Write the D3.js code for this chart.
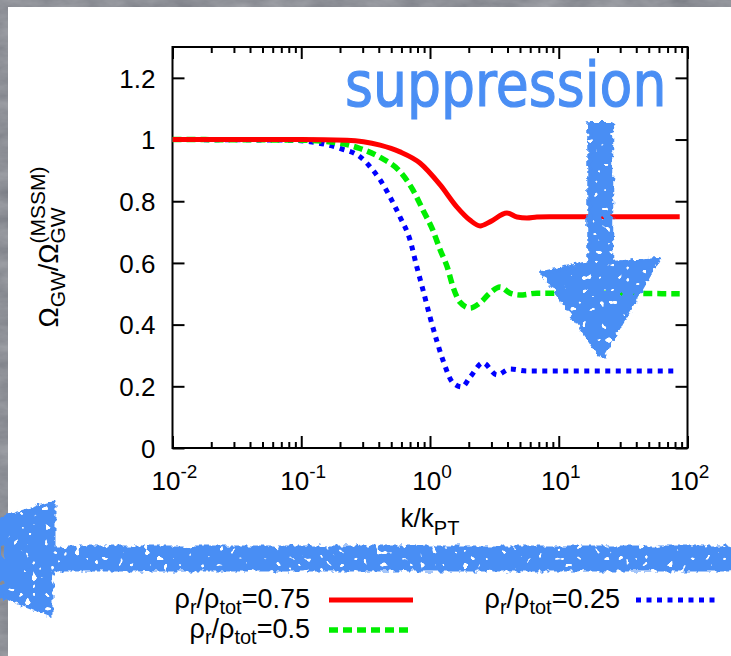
<!DOCTYPE html>
<html>
<head>
<meta charset="utf-8">
<script src="https://cdn.jsdelivr.net/npm/d3@7"></script>
<style>
  body { margin: 0; background: #484b54; }
  svg { display: block; }
</style>
</head>
<body>
<div id="chart"></div>
<script>
// curve data (k/kPT, Omega ratio)
var redK   = [0.01, 0.1, 0.226, 0.41, 0.585, 0.835, 1.2, 1.62, 2.04, 2.45, 2.92, 3.96, 4.74, 5.66, 6.76, 8.5, 87];
var redV   = [1, 1, 0.998, 0.982, 0.96, 0.924, 0.853, 0.781, 0.739, 0.72, 0.733, 0.762, 0.749, 0.746, 0.749, 0.75, 0.75];
var greenK = [0.01, 0.103, 0.2, 0.286, 0.41, 0.585, 0.738, 0.883, 1.05, 1.2, 1.36, 1.51, 1.71, 2.05, 2.44, 2.92, 3.5, 4.18, 5.0, 6.78, 87];
var greenV = [1, 0.998, 0.988, 0.971, 0.942, 0.896, 0.836, 0.771, 0.707, 0.642, 0.587, 0.522, 0.473, 0.454, 0.47, 0.502, 0.522, 0.502, 0.496, 0.502, 0.5];
var blueK  = [0.01, 0.078, 0.117, 0.2, 0.286, 0.36, 0.41, 0.489, 0.585, 0.7, 0.79, 0.883, 1.0, 1.13, 1.26, 1.51, 1.77, 2.05, 2.58, 3.31, 4.18, 5.66, 80];
var blueV  = [1, 0.998, 0.993, 0.971, 0.944, 0.901, 0.869, 0.814, 0.749, 0.674, 0.587, 0.512, 0.425, 0.347, 0.285, 0.211, 0.198, 0.23, 0.276, 0.237, 0.256, 0.25, 0.25];

var xTicks = [0.01, 0.1, 1, 10, 100];
var xExps  = ["-2", "-1", "0", "1", "2"];
var yTicks = [0, 0.2, 0.4, 0.6, 0.8, 1, 1.2];
var legendNames = ["0.75", "0.5", "0.25"];

var W = 731, H = 656;
var font = "'Liberation Sans', Arial, Helvetica, sans-serif";
var accent = "#4a8ef4";

var svg = d3.select("#chart").append("svg")
  .attr("width", W).attr("height", H)
  .attr("font-family", font);

var defs = svg.append("defs");

// slate background texture
var bgF = defs.append("filter").attr("id", "slate").attr("x", 0).attr("y", 0).attr("width", 1).attr("height", 1);
bgF.append("feTurbulence").attr("type", "fractalNoise").attr("baseFrequency", "0.03 0.07")
  .attr("numOctaves", 4).attr("seed", 7).attr("result", "n");
bgF.append("feColorMatrix").attr("in", "n").attr("type", "matrix")
  .attr("values", "0.2 0 0 0 0.17  0.2 0 0 0 0.18  0.2 0 0 0 0.21  0 0 0 0 1");

// rough, speckled marker look for the hand drawn arrows
var rf = defs.append("filter").attr("id", "rough")
  .attr("x", "-10%").attr("y", "-10%").attr("width", "120%").attr("height", "120%");
rf.append("feTurbulence").attr("type", "fractalNoise").attr("baseFrequency", 0.18)
  .attr("numOctaves", 2).attr("seed", 2).attr("result", "n");
rf.append("feDisplacementMap").attr("in", "SourceGraphic").attr("in2", "n").attr("scale", 7)
  .attr("xChannelSelector", "R").attr("yChannelSelector", "G").attr("result", "d");
rf.append("feTurbulence").attr("type", "fractalNoise").attr("baseFrequency", 0.16)
  .attr("numOctaves", 1).attr("seed", 11).attr("result", "n2");
rf.append("feColorMatrix").attr("in", "n2").attr("type", "matrix")
  .attr("values", "0 0 0 0 0  0 0 0 0 0  0 0 0 0 0  -30 0 0 0 21").attr("result", "holes");
rf.append("feComposite").attr("in", "d").attr("in2", "holes").attr("operator", "in");

svg.append("rect").attr("width", W).attr("height", H).attr("fill", "#484b54").attr("filter", "url(#slate)");
svg.append("rect").attr("x", 8).attr("y", 7).attr("width", W - 8).attr("height", H - 7).attr("fill", "#fff");

// plot area
var pLeft = 172.5, pRight = 687.5, pTop = 47, pBottom = 448;

var x = d3.scaleLog().domain([0.01, 100]).range([pLeft, pRight]);
var y = d3.scaleLinear().domain([0, 1.3]).range([pBottom, pTop]);

// helper: one text element made of tspans for sub/superscripts
function rich(parent, runs, px, py, anchor, rot) {
  var g = parent.append("g").attr("transform", "translate(" + px + "," + py + ")" + (rot ? " rotate(" + rot + ")" : ""));
  var txt = g.append("text").attr("fill", "#000");
  var cx = 0, prevStart = 0, maxX = 0;
  runs.forEach(function(r) {
    var start = r.back ? prevStart : cx;
    var t = txt.append("tspan").attr("x", start).attr("y", r.dy || 0)
      .attr("font-size", r.size).text(r.text);
    var w = t.node().getComputedTextLength();
    prevStart = start;
    maxX = Math.max(maxX, start + w);
    cx = r.back ? maxX : start + w;
  });
  var off = anchor === "middle" ? -maxX / 2 : anchor === "end" ? -maxX : 0;
  txt.attr("transform", "translate(" + off + ",0)");
  return g;
}

// minor ticks for the log axis
var minor = [];
[0.01, 0.1, 1, 10].forEach(function(d) {
  for (var i = 2; i <= 9; i++) minor.push(d * i);
});

function styleAxis(g) {
  g.select(".domain").remove();
  g.selectAll("line").attr("stroke", "#000").attr("stroke-width", 2);
}

svg.append("g").attr("transform", "translate(0," + pBottom + ")")
  .call(d3.axisBottom(x).tickValues(xTicks).tickSize(-12).tickSizeOuter(0).tickFormat(""))
  .call(styleAxis);
svg.append("g").attr("transform", "translate(0," + pBottom + ")")
  .call(d3.axisBottom(x).tickValues(minor).tickSize(-6).tickSizeOuter(0).tickFormat(""))
  .call(styleAxis);
svg.append("g").attr("transform", "translate(0," + pTop + ")")
  .call(d3.axisTop(x).tickValues(xTicks).tickSize(-12).tickSizeOuter(0).tickFormat(""))
  .call(styleAxis);
svg.append("g").attr("transform", "translate(0," + pTop + ")")
  .call(d3.axisTop(x).tickValues(minor).tickSize(-6).tickSizeOuter(0).tickFormat(""))
  .call(styleAxis);

var yAxis = svg.append("g").attr("transform", "translate(" + pLeft + ",0)")
  .call(d3.axisLeft(y).tickValues(yTicks).tickSize(-12).tickSizeOuter(0).tickPadding(17).tickFormat(d3.format("~g")))
  .call(styleAxis);
yAxis.selectAll("text").attr("font-size", 26).attr("font-family", font).attr("fill", "#000").attr("dy", "0.36em");
svg.append("g").attr("transform", "translate(" + pRight + ",0)")
  .call(d3.axisRight(y).tickValues(yTicks).tickSize(-12).tickSizeOuter(0).tickFormat(""))
  .call(styleAxis);

svg.append("rect").attr("x", pLeft).attr("y", pTop).attr("width", pRight - pLeft).attr("height", pBottom - pTop)
  .attr("fill", "none").attr("stroke", "#000").attr("stroke-width", 2);

// x tick labels 10^n
xTicks.forEach(function(d, i) {
  rich(svg, [{ text: "10", size: 26 }, { text: xExps[i], size: 19, dy: -12 }], x(d) + 2, 490, "middle");
});

// axis titles
rich(svg, [{ text: "k/k", size: 26 }, { text: "PT", size: 20, dy: 8 }], 430, 527, "middle");
rich(svg, [
  { text: "\u03A9", size: 27 }, { text: "GW", size: 21, dy: 7 },
  { text: "/\u03A9", size: 27 }, { text: "GW", size: 21, dy: 7 },
  { text: "(MSSM)", size: 21, dy: -13, back: true }
], 58, 247, "middle", -90);

// curves
var line = d3.line()
  .x(function(d) { return x(d[0]); })
  .y(function(d) { return y(d[1]); })
  .curve(d3.curveMonotoneX);

function pairs(ks, vs) { return ks.map(function(k, i) { return [k, vs[i]]; }); }

var styles = [
  { color: "#ff0000", dash: null, width: 5 },
  { color: "#00ee00", dash: "9,5", width: 5.5 },
  { color: "#0000ff", dash: "5,5.5", width: 5 }
];

var plot = svg.append("g");
plot.append("path").datum(pairs(blueK, blueV))
  .attr("fill", "none").attr("stroke", styles[2].color).attr("stroke-width", styles[2].width)
  .attr("stroke-dasharray", styles[2].dash).attr("d", line);
plot.append("path").datum(pairs(greenK, greenV))
  .attr("fill", "none").attr("stroke", styles[1].color).attr("stroke-width", styles[1].width)
  .attr("stroke-dasharray", styles[1].dash).attr("d", line);

// "suppression" annotation + down arrow
svg.append("text")
  .attr("transform", "translate(345,106) scale(0.865,1)")
  .attr("font-family", "'DejaVu Sans', sans-serif").attr("font-size", 62)
  .attr("fill", accent).attr("stroke", accent).attr("stroke-width", 1.2)
  .text("suppression");

var ax = x(21);
var down = d3.path();
down.moveTo(ax - 11, y(1.05)); down.lineTo(ax + 11, y(1.05));
down.lineTo(ax + 11, y(0.6)); down.lineTo(ax + 58, y(0.6) - 4);
down.lineTo(ax + 2, y(0.295)); down.lineTo(ax - 58, y(0.6) + 10);
down.lineTo(ax - 11, y(0.6)); down.closePath();
svg.append("path").attr("d", down.toString()).attr("fill", accent)
  .attr("stroke", accent).attr("stroke-width", 4).attr("stroke-linejoin", "round")
  .attr("filter", "url(#rough)");

plot.append("path").datum(pairs(redK, redV))
  .attr("fill", "none").attr("stroke", styles[0].color).attr("stroke-width", styles[0].width)
  .attr("d", line);

// long left-pointing arrow below the axis
var side = d3.path();
side.moveTo(W + 10, 547); side.lineTo(54, 547); side.lineTo(54, 502);
side.lineTo(-6, 520); side.lineTo(-6, 594); side.lineTo(52, 616);
side.lineTo(52, 570); side.lineTo(W + 10, 570); side.closePath();
svg.append("path").attr("d", side.toString()).attr("fill", accent)
  .attr("stroke", accent).attr("stroke-width", 3).attr("stroke-linejoin", "round")
  .attr("filter", "url(#rough)");

// legend
var legRows = [
  { tx: 310, ty: 608, lx0: 329, lx1: 413, ly: 600 },
  { tx: 310, ty: 638, lx0: 329, lx1: 413, ly: 630 },
  { tx: 620, ty: 608, lx0: 636, lx1: 716, ly: 600 }
];
legendNames.forEach(function(name, i) {
  var r = legRows[i];
  rich(svg, [
    { text: "\u03C1", size: 27 }, { text: "r", size: 20, dy: 6 },
    { text: "/\u03C1", size: 27 }, { text: "tot", size: 20, dy: 6 },
    { text: "=" + name, size: 27 }
  ], r.tx, r.ty, "end");
  svg.append("line").attr("x1", r.lx0).attr("x2", r.lx1).attr("y1", r.ly).attr("y2", r.ly)
    .attr("stroke", styles[i].color).attr("stroke-width", styles[i].width)
    .attr("stroke-dasharray", styles[i].dash);
});
</script>
</body>
</html>
